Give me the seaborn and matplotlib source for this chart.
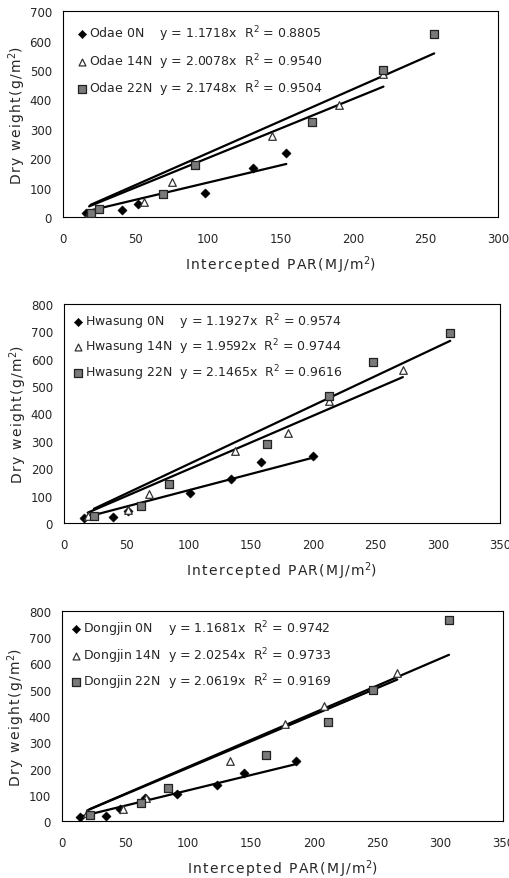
import numpy as np
import pandas as pd
import matplotlib
matplotlib.use("Agg")
import matplotlib.pyplot as plt
import seaborn as sns

sns.set_style("white")
plt.rcParams['font.family'] = ['DejaVu Sans']

# --- Odae ---
odae_0n_x = [16, 41, 52, 98, 131, 154]
odae_0n_y = [15, 23, 43, 80, 168, 219]
odae_14n_x = [18, 56, 75, 144, 190, 221]
odae_14n_y = [15, 52, 119, 275, 380, 488]
odae_22n_x = [19, 25, 69, 91, 172, 221, 256]
odae_22n_y = [15, 26, 77, 177, 323, 499, 623]

# --- Hwasung ---
hwa_0n_x = [16, 39, 51, 101, 134, 158, 200]
hwa_0n_y = [18, 21, 43, 109, 159, 221, 243]
hwa_14n_x = [19, 51, 68, 137, 180, 213, 272]
hwa_14n_y = [24, 46, 105, 261, 328, 447, 560]
hwa_22n_x = [24, 62, 84, 163, 213, 248, 310]
hwa_22n_y = [24, 61, 143, 287, 462, 587, 694]

# --- Dongjin ---
dong_0n_x = [14, 35, 46, 66, 91, 123, 144, 186]
dong_0n_y = [17, 19, 45, 89, 102, 138, 182, 228]
dong_14n_x = [20, 48, 67, 133, 177, 208, 266]
dong_14n_y = [32, 47, 89, 229, 369, 439, 563]
dong_22n_x = [22, 63, 84, 162, 211, 247, 307]
dong_22n_y = [23, 70, 127, 251, 378, 499, 764]

slopes = {
    "Odae": [1.1718, 2.0078, 2.1748],
    "Hwasung": [1.1927, 1.9592, 2.1465],
    "Dongjin": [1.1681, 2.0254, 2.0619],
}
r2 = {
    "Odae": [0.8805, 0.9540, 0.9504],
    "Hwasung": [0.9574, 0.9744, 0.9616],
    "Dongjin": [0.9742, 0.9733, 0.9169],
}
treatments = ["0N", "14N", "22N"]
gaps = ["    ", "  ", "  "]

panels = [
    ("Odae", [(odae_0n_x, odae_0n_y), (odae_14n_x, odae_14n_y), (odae_22n_x, odae_22n_y)],
     [0.1235, 0.752, 0.853, 0.234], 300, 700, 0.6, 0.6),
    ("Hwasung", [(hwa_0n_x, hwa_0n_y), (hwa_14n_x, hwa_14n_y), (hwa_22n_x, hwa_22n_y)],
     [0.1255, 0.404, 0.855, 0.249], 350, 800, 0.2, 0.45),
    ("Dongjin", [(dong_0n_x, dong_0n_y), (dong_14n_x, dong_14n_y), (dong_22n_x, dong_22n_y)],
     [0.1216, 0.0648, 0.865, 0.239], 350, 800, 0.2, 0.55),
]

styles = [
    dict(marker="D", s=22, color="black", edgecolor="black"),
    dict(marker="^", s=30, color="white", edgecolor="#333333", linewidth=0.9),
    dict(marker="s", s=32, color="#7a7a7a", edgecolor="#222222", linewidth=0.9),
]


def spaced(txt):
    # mimic the wide letter spacing of the original labels
    hs = "\u200a"
    return hs.join(txt)


xlab = spaced("Intercepted PAR(MJ/m") + "$^2$)"
ylab = spaced("Dry weight(g/m") + "$^2$)"

fig = plt.figure(figsize=(5.1, 8.79), dpi=100)

for site, series, pos, xmax, ymax, lpad, lspace in panels:
    ax = fig.add_axes(pos)
    for i, (xs, ys) in enumerate(series):
        df = pd.DataFrame({"x": xs, "y": ys})
        k = slopes[site][i]
        fit = pd.DataFrame({"x": [min(xs), max(xs)]})
        fit["y"] = k * fit["x"]
        sns.lineplot(data=fit, x="x", y="y", ax=ax, color="black", linewidth=1.6,
                     legend=False, zorder=2)
        label = f"{site} {treatments[i]}{gaps[i]}y = {k:.4f}x  R$^2$ = {r2[site][i]:.4f}"
        sns.scatterplot(data=df, x="x", y="y", ax=ax, label=label, zorder=3, **styles[i])

    ax.set_xlim(0, xmax)
    ax.set_ylim(0, ymax)
    ax.set_xticks(np.arange(0, xmax + 1, 50))
    ax.set_yticks(np.arange(0, ymax + 1, 100))
    ax.tick_params(length=0, labelsize=8.5, pad=8)
    ax.tick_params(axis="x", pad=11)
    for sp in ax.spines.values():
        sp.set_color("black")
        sp.set_linewidth(0.8)
    ax.set_xlabel(xlab, fontsize=10, labelpad=6)
    ax.set_ylabel(ylab, fontsize=10, labelpad=1)
    ax.legend(loc="upper left", frameon=False, fontsize=9, handletextpad=0.1,
              handlelength=1.0, labelspacing=lspace, borderaxespad=lpad,
              markerscale=0.9)

fig.savefig("out.png", dpi=100)
